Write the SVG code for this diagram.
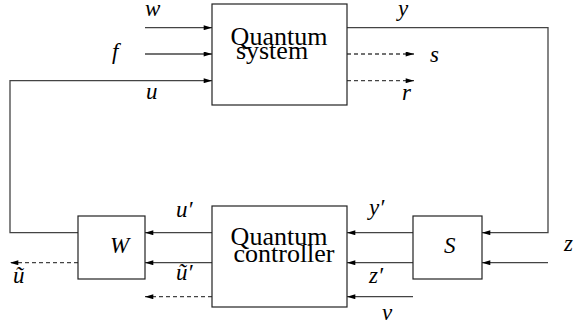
<svg xmlns="http://www.w3.org/2000/svg" width="575" height="327" viewBox="0 0 575 327">
<style>
.box{fill:#fff;stroke:#222;stroke-width:1.2}
.ln{fill:none;stroke:#444;stroke-width:1.3}
.ds{fill:none;stroke:#444;stroke-width:1.3;stroke-dasharray:4 3}
.t{font-family:"Liberation Serif","Times New Roman","DejaVu Serif",serif;font-size:26px;fill:#000}
.m{font-family:"Liberation Serif","Times New Roman","DejaVu Serif",serif;font-style:italic;font-size:23px;fill:#000}
</style>
<defs>
<marker id="ah" viewBox="0 0 10 6" refX="10" refY="3" markerWidth="10" markerHeight="5" markerUnits="userSpaceOnUse" orient="auto">
<path d="M0,0 L10,3 L0,6 z" fill="#000"/>
</marker>
</defs>
<rect width="575" height="327" fill="#fff"/>
<g id="connectors">
<line class="ln" x1="145" y1="27.7" x2="212" y2="27.7" marker-end="url(#ah)"/>
<line class="ln" x1="145" y1="54" x2="212" y2="54" marker-end="url(#ah)"/>
<polyline class="ln" points="78,232.7 10,232.7 10,80.7 212,80.7" marker-end="url(#ah)"/>
<polyline class="ln" points="347,27.7 548,27.7 548,232.7 482,232.7" marker-end="url(#ah)"/>
<line class="ds" x1="347" y1="54" x2="414" y2="54" marker-end="url(#ah)"/>
<line class="ds" x1="347" y1="80.7" x2="414" y2="80.7" marker-end="url(#ah)"/>
<line class="ln" x1="548" y1="262.7" x2="482" y2="262.7" marker-end="url(#ah)"/>
<line class="ln" x1="413" y1="232.7" x2="347" y2="232.7" marker-end="url(#ah)"/>
<line class="ln" x1="413" y1="262.7" x2="347" y2="262.7" marker-end="url(#ah)"/>
<line class="ln" x1="413" y1="296.7" x2="347" y2="296.7" marker-end="url(#ah)"/>
<line class="ln" x1="212" y1="232.7" x2="145" y2="232.7" marker-end="url(#ah)"/>
<line class="ln" x1="212" y1="262.7" x2="145" y2="262.7" marker-end="url(#ah)"/>
<line class="ds" x1="212" y1="296.7" x2="145" y2="296.7" marker-end="url(#ah)"/>
<line class="ds" x1="78" y1="262.7" x2="10" y2="262.7" marker-end="url(#ah)"/>
</g>
<g id="system">
<rect class="box" x="212" y="4" width="135" height="101"/>
<text class="t" x="279" y="45" text-anchor="middle">Quantum</text>
<text class="t" x="272" y="59" text-anchor="middle">system</text>
</g>
<g id="controller">
<rect class="box" x="212" y="206" width="135" height="101"/>
<text class="t" x="279" y="245" text-anchor="middle">Quantum</text>
<text class="t" x="284" y="262" text-anchor="middle">controller</text>
</g>
<g id="W">
<rect class="box" x="78" y="216" width="67" height="63"/>
<text class="m" x="110" y="253">W</text>
</g>
<g id="S">
<rect class="box" x="413" y="216" width="69" height="63"/>
<text class="m" x="444" y="253">S</text>
</g>
<g id="labels">
<text class="m" x="145" y="16">w</text>
<text class="m" x="112" y="59">f</text>
<text class="m" x="146" y="99">u</text>
<text class="m" x="398" y="16">y</text>
<text class="m" x="430" y="62">s</text>
<text class="m" x="402" y="100">r</text>
<text class="m" x="176" y="217">u′</text>
<text class="m" x="176" y="280">ũ′</text>
<text class="m" x="369" y="215">y′</text>
<text class="m" x="369" y="283">z′</text>
<text class="m" x="382" y="320">v</text>
<text class="m" x="13" y="283">ũ</text>
<text class="m" x="564" y="251">z</text>
</g>
</svg>
